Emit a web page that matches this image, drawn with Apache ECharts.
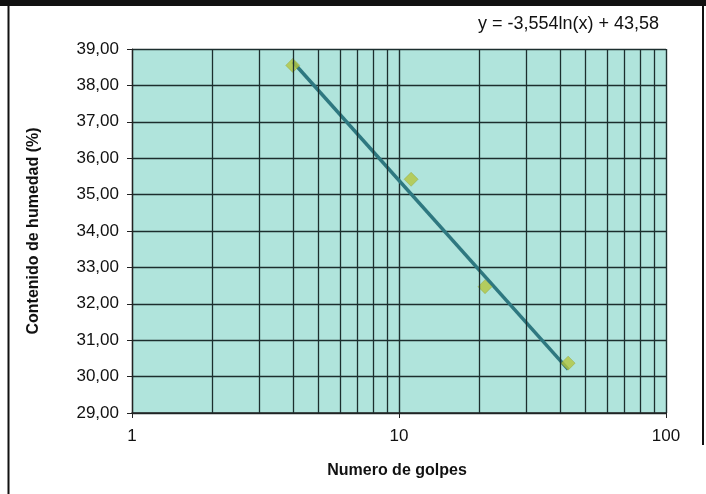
<!DOCTYPE html>
<html>
<head>
<meta charset="utf-8">
<script src="https://cdn.jsdelivr.net/npm/echarts@6/dist/echarts.min.js"></script>
<style>
  html, body { margin: 0; padding: 0; background: #fff; }
  #container { width: 706px; height: 494px; }
</style>
</head>
<body>
<div id="container"></div>
<script>
var golpes = [4, 11.1, 21, 43];
var humedad = [38.55, 35.42, 32.47, 30.37];
// ends of the log trend line
var trendX = [4, 43];
var trendY = [38.65, 30.2];
var gridX = [2, 3, 4, 5, 6, 7, 8, 9, 20, 30, 40, 50, 60, 70, 80, 90];
var ecuacion = 'y = -3,554ln(x) + 43,58';

var dom = document.getElementById("container");
var myChart = echarts.init(dom);

var puntos = golpes.map(function (g, i) { return [g, humedad[i]]; });
var tendencia = trendX.map(function (t, i) { return [t, trendY[i]]; });

option = {
    backgroundColor: '#fff',
    animation: false,
    textStyle: { fontFamily: 'Liberation Sans, Arial, sans-serif' },
    title: {
        text: ecuacion,
        right: 42,
        top: 10,
        textStyle: { fontSize: 18, fontWeight: 'normal', color: '#111' }
    },
    grid: {
        left: 132,
        top: 49,
        width: 534,
        height: 364,
        show: true,
        backgroundColor: '#b0e4dc',
        borderWidth: 0
    },
    xAxis: {
        type: 'log',
        logBase: 10,
        min: 1,
        max: 100,
        name: 'Numero de golpes',
        nameLocation: 'middle',
        nameGap: 50,
        nameTextStyle: { fontSize: 16, fontWeight: 'bold', color: '#111', padding: [0, 4, 0, 0] },
        axisLine: { lineStyle: { color: '#222', width: 1.5 } },
        axisTick: { show: true, length: 5, lineStyle: { color: '#222' } },
        axisLabel: { fontSize: 17, color: '#111', margin: 15 },
        splitLine: { show: true, lineStyle: { color: '#1c2e2e', width: 1.4 } }
    },
    yAxis: {
        type: 'value',
        min: 29,
        max: 39,
        interval: 1,
        name: 'Contenido de humedad (%)',
        nameLocation: 'middle',
        nameGap: 90,
        nameTextStyle: { fontSize: 16, fontWeight: 'bold', color: '#111' },
        axisLine: { show: true, lineStyle: { color: '#222', width: 1.2 } },
        axisTick: { show: true, length: 5, lineStyle: { color: '#222' } },
        axisLabel: {
            fontSize: 17,
            color: '#111',
            margin: 13,
            formatter: function (v) { return v.toFixed(2).replace('.', ','); }
        },
        splitLine: { show: true, lineStyle: { color: '#1c2e2e', width: 1.4 } }
    },
    series: [
        {
            name: 'rejilla',
            type: 'line',
            data: [],
            silent: true,
            markLine: {
                symbol: 'none',
                silent: true,
                label: { show: false },
                lineStyle: { color: '#1c2e2e', width: 1.3, type: 'solid' },
                data: gridX.map(function (v) { return { xAxis: v }; })
            }
        },
        {
            name: 'tendencia',
            type: 'line',
            data: tendencia,
            symbol: 'none',
            lineStyle: { color: '#2e7880', width: 3.5 },
            z: 3
        },
        {
            name: 'Humedad',
            type: 'scatter',
            data: puntos,
            symbol: 'diamond',
            symbolSize: 14,
            itemStyle: { color: '#b4c63e', borderColor: '#8c9c30', borderWidth: 0.5 },
            z: 4
        }
    ],
    graphic: [
        { type: 'rect', shape: { x: 0, y: 0, width: 706, height: 6 }, style: { fill: '#111' } },
        { type: 'line', shape: { x1: 8.5, y1: 6, x2: 8.5, y2: 494 }, style: { stroke: '#111', lineWidth: 2 } },
        { type: 'line', shape: { x1: 703, y1: 6, x2: 703, y2: 445 }, style: { stroke: '#111', lineWidth: 2 } }
    ]
};

if (option && typeof option === "object") {
    myChart.setOption(option, true);
}
</script>
</body>
</html>
